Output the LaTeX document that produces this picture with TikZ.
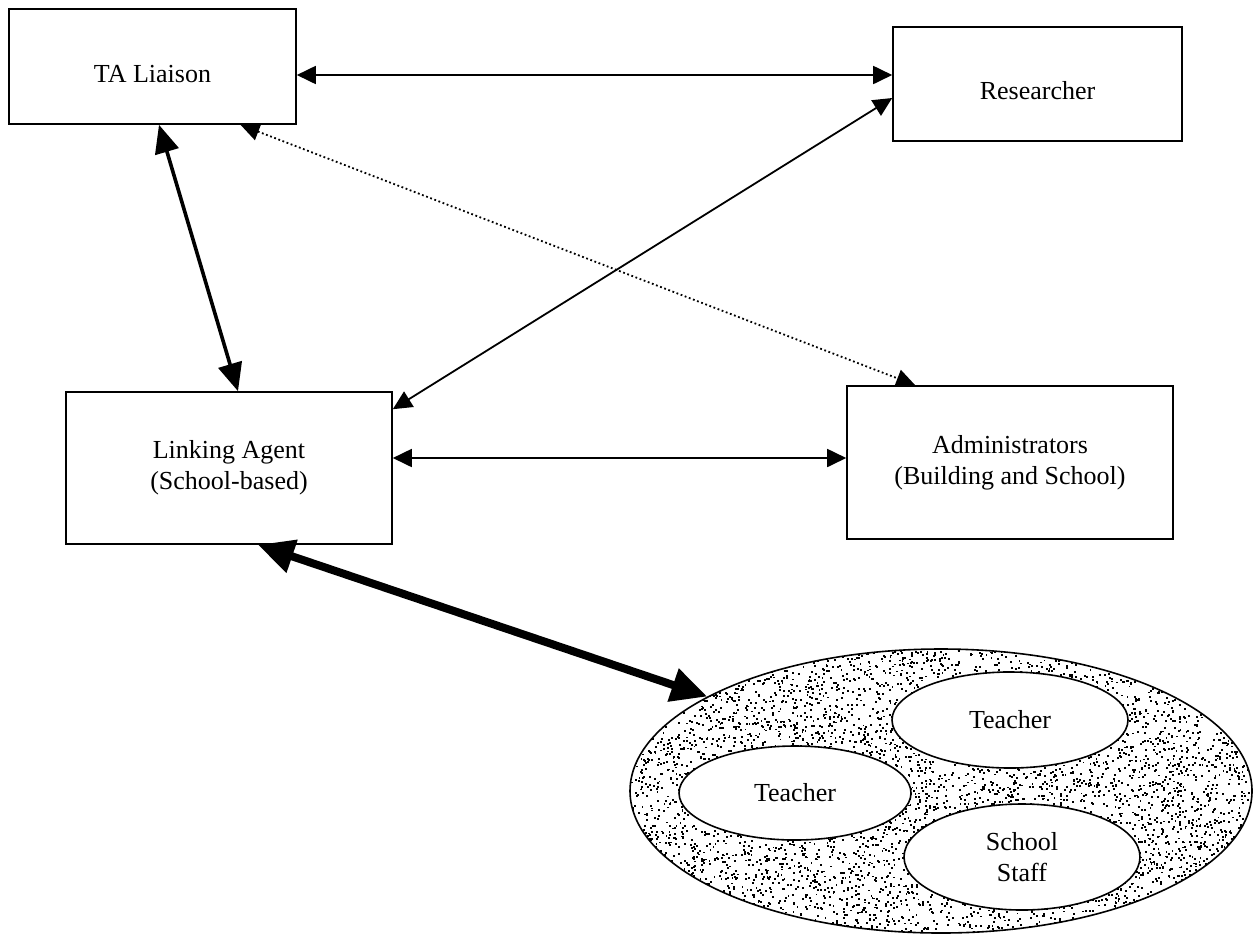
\documentclass[tikz,border=0pt]{standalone}
\usepackage{fontspec}
\setmainfont{Liberation Serif}
\usetikzlibrary{arrows.meta,shapes.geometric,calc}
\begin{document}
\begin{tikzpicture}[x=1pt,y=-1pt,
  lbl/.style={font=\fontsize{26}{31}\selectfont,align=center},
  box/.style={lbl,draw,line width=1.6pt,rectangle,inner sep=0pt},
  oval/.style={lbl,draw,line width=1.6pt,ellipse,fill=white,inner sep=0pt},
  thinlink/.style={line width=1.8pt,{Triangle[length=19pt,width=18pt]}-{Triangle[length=19pt,width=18pt]}},
  dotlink/.style={line width=1.8pt,dash pattern=on 1.8pt off 2.6pt,{Triangle[length=19pt,width=18pt]}-{Triangle[length=19pt,width=18pt]}},
  midlink/.style={line width=3.6pt,{Triangle[length=28pt,width=24pt]}-{Triangle[length=28pt,width=24pt]}},
  heavylink/.style={line width=8pt,{Triangle[length=36pt,width=33pt]}-{Triangle[length=36pt,width=33pt]}}]
\useasboundingbox (0,0) rectangle (1257,938);

% boxes
\node[box,minimum width=287pt,minimum height=115pt,text height=32pt,text depth=0pt] (ta) at (152.5,66.5) {TA Liaison};
\node[box,minimum width=289pt,minimum height=114pt,text height=30pt,text depth=0pt] (res) at (1037.5,84) {Researcher};
\node[box,minimum width=326pt,minimum height=152pt] (link) at (229,468) {Linking Agent\\(School-based)};
\node[box,minimum width=326pt,minimum height=153pt] (adm) at (1010,462.5) {Administrators\\(Building and School)};

% stippled group
\begin{scope}
  \clip (941,791) ellipse [x radius=311, y radius=142];
  \pgfmathsetseed{7}
  \foreach \i in {1,...,6500}{
    \pgfmathsetmacro{\px}{941+311*rand}
    \pgfmathsetmacro{\py}{791+142*rand}
    \fill (\px,\py) rectangle ++(1.9,1.9);
  }
\end{scope}
\node[draw,line width=1.6pt,ellipse,minimum width=622pt,minimum height=284pt,inner sep=0pt] (grp) at (941,791) {};
\node[oval,minimum width=236pt,minimum height=96pt] (t1) at (1010,720) {Teacher};
\node[oval,minimum width=232pt,minimum height=94pt] (t2) at (795,793) {Teacher};
\node[oval,minimum width=236pt,minimum height=106pt] (staff) at (1022,857) {School\\Staff};

% connectors
\draw[thinlink] ([yshift=-8.5pt]ta.east) -- ([yshift=-8.5pt]ta.east -| res.west);
\draw[thinlink] ([yshift=-14pt]res.west) -- ([yshift=-18pt]link.north east);
\draw[dotlink] ($(ta.south west)!0.805!(ta.south east)$) -- ([xshift=69pt]adm.north west);
\draw[midlink] ([xshift=6.5pt]ta.south) -- ([xshift=9pt]link.north);
\draw[thinlink] ([yshift=10pt]link.east) -- ([yshift=10pt]link.east -| adm.west);
\draw[heavylink] ([xshift=29pt]link.south) -- (grp.158.7);
\end{tikzpicture}
\end{document}
